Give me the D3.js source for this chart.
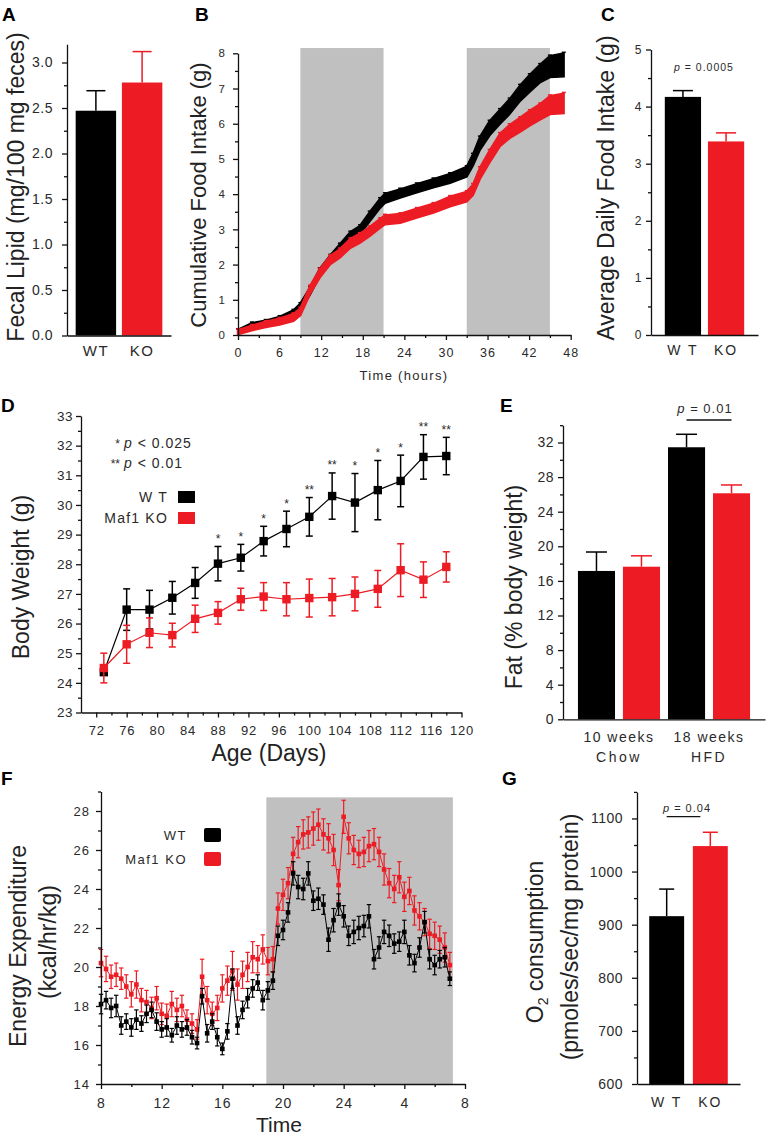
<!DOCTYPE html>
<html><head><meta charset="utf-8">
<script src="https://cdn.jsdelivr.net/npm/d3@7"></script>
<style>
body{margin:0;background:#fff}
svg text{font-family:"Liberation Sans",Arial,Helvetica,sans-serif}
</style></head><body>
<svg id="c" width="766" height="1137"></svg>
<script>
// ================= DATA =================
// Panel A
const aCats = ["WT","KO"];
const aVals = [2.47, 2.78];
const aErr  = [0.22, 0.34];
const aMajor = [0,0.5,1,1.5,2,2.5,3];
const aMinor = [0.25,0.75,1.25,1.75,2.25,2.75];
// Panel B
const bTimes = [0,2,4,6,8,9,10.4,11.8,13.3,14.7,16.2,17.6,19,20.5,21.2,23.4,25.8,28.2,30.6,33,33.9,34.9,36.3,37.8,39.2,40.7,42.1,43.6,45,47];
const bWT    = [0.10,0.28,0.35,0.45,0.62,0.80,1.25,1.78,2.15,2.46,2.80,2.98,3.36,3.74,3.88,4.02,4.17,4.31,4.45,4.64,4.97,5.44,5.87,6.20,6.49,6.87,7.15,7.43,7.62,7.67];
const bWTerr = [0.05,0.06,0.06,0.07,0.08,0.09,0.10,0.10,0.11,0.12,0.12,0.12,0.13,0.13,0.13,0.12,0.12,0.12,0.13,0.14,0.16,0.18,0.20,0.20,0.21,0.22,0.24,0.25,0.30,0.33];
const bKO    = [0.08,0.20,0.30,0.38,0.50,0.66,1.28,1.75,2.13,2.32,2.60,2.75,2.94,3.17,3.27,3.31,3.46,3.60,3.79,3.93,4.12,4.59,5.07,5.54,5.78,5.97,6.16,6.34,6.53,6.58];
const bKOerr = [0.06,0.07,0.08,0.09,0.10,0.10,0.11,0.12,0.12,0.12,0.13,0.13,0.13,0.13,0.13,0.13,0.13,0.13,0.14,0.14,0.15,0.16,0.17,0.18,0.19,0.20,0.21,0.22,0.26,0.28];
const bDark = [[9,21],[33,45]];
const bDarkTop = 8.15;
const bXMajor = [0,6,12,18,24,30,36,42,48];
const bXMinor = [3,9,15,21,27,33,39,45];
const bYMajor = [0,1,2,3,4,5,6,7,8];
const bYMinor = [0.5,1.5,2.5,3.5,4.5,5.5,6.5,7.5];
// Panel C
const cCats = ["WT","KO"];
const cVals = [4.17, 3.39];
const cErr  = [0.11, 0.15];
const cMajor = [0,1,2,3,4,5];
const cMinor = [0.5,1.5,2.5,3.5,4.5];
// Panel D
const dDays = [73,76,79,82,85,88,91,94,97,100,103,106,109,112,115,118];
const dWT    = [24.36,26.47,26.47,26.87,27.37,28.02,28.22,28.78,29.19,29.60,30.30,30.08,30.50,30.81,31.62,31.65];
const dWTerr = [0.10,0.70,0.65,0.55,0.52,0.58,0.45,0.50,0.60,0.65,0.78,0.98,1.00,0.87,0.75,0.63];
const dKO    = [24.50,25.30,25.69,25.61,26.16,26.36,26.82,26.91,26.82,26.86,26.89,27.00,27.17,27.80,27.48,27.91];
const dKOerr = [0.50,0.64,0.50,0.40,0.46,0.38,0.37,0.47,0.56,0.64,0.63,0.57,0.62,0.89,0.60,0.51];
const dSig   = ["","","","","","*","*","*","*","**","**","*","*","*","**","**"];
const dXMajor = [72,76,80,84,88,92,96,100,104,108,112,116,120];
const dXMinor = [74,78,82,86,90,94,98,102,106,110,114,118];
const dYMajor = [23,24,25,26,27,28,29,30,31,32,33];
const dYMinor = [23.5,24.5,25.5,26.5,27.5,28.5,29.5,30.5,31.5,32.5];
// Panel E
const eGroups = ["10 weeks","18 weeks"];
const eGroupSub = ["Chow","HFD"];
const eGenos = ["WT","KO"];
const eVals = [[17.15,17.64],[31.45,26.13]];
const eErr  = [[2.19,1.26],[1.50,0.96]];
const eMajor = [0,4,8,12,16,20,24,28,32];
const eMinor = [2,6,10,14,18,22,26,30,34];
// Panel F (one reading every 20 minutes from 8:00 to 7:00 next day)
const fStartHour = 8, fStepHour = 1/3;
const fWT = [18.1,18.3,17.9, 18.0,17.0,17.2, 16.9,17.3,17.1, 17.6,17.8,17.2, 16.8,16.9,16.5, 17.0,16.8,16.9,
             16.4,16.1,18.5, 16.6,17.2,16.4, 15.8,16.7,19.4, 17.0,17.8,18.4, 18.9,19.2,18.3, 18.8,19.3,21.6,
             21.9,22.8,24.8, 24.1,24.0,24.8, 23.4,23.5,23.2, 21.4,22.4,23.2, 22.6,21.6,21.8, 22.0,22.1,22.6,
             20.4,21.0,21.8, 21.6,21.2,21.3, 21.8,20.6,20.2, 21.0,22.3,20.4, 20.1,20.4,20.5, 19.4];
const fWTerr = [0.5,0.45,0.5, 0.55,0.45,0.4, 0.45,0.5,0.4, 0.45,0.4,0.45, 0.4,0.45,0.35, 0.45,0.4,0.4,
             0.35,0.3,0.4, 0.45,0.4,0.45, 0.3,0.4,0.5, 0.45,0.45,0.5, 0.45,0.4,0.5, 0.45,0.45,0.5,
             0.5,0.5,0.6, 0.6,0.55,0.6, 0.5,0.55,0.5, 0.6,0.6,0.55, 0.55,0.5,0.6, 0.6,0.55,0.6,
             0.5,0.55,0.6, 0.55,0.5,0.5, 0.6,0.5,0.45, 0.5,0.55,0.5, 0.5,0.45,0.5, 0.35];
const fKO = [20.2,19.9,19.5, 19.6,19.4,19.0, 18.6,19.1,18.3, 18.2,17.9,18.4, 17.6,17.5,18.1, 17.8,18.0,17.3,
             17.1,16.8,19.5, 18.3,17.6,17.9, 18.9,19.3,19.8, 19.1,19.6,20.0, 20.5,20.4,20.9, 20.3,20.4,23.0,
             23.7,24.3,25.8, 26.4,26.8,26.9, 27.1,27.3,26.8, 26.6,26.0,24.2, 27.7,26.6,26.0, 25.8,25.9,26.2,
             26.3,25.9,25.0, 24.3,24.0,24.6, 23.6,23.9,22.9, 22.6,22.3,21.7, 21.6,21.4,21.0, 20.1];
const fKOerr = [0.7,0.65,0.6, 0.6,0.55,0.6, 0.65,0.7,0.6, 0.6,0.55,0.6, 0.55,0.6,0.65, 0.6,0.55,0.5,
             0.5,0.5,0.9, 0.7,0.6,0.65, 0.7,0.75,1.0, 0.8,0.7,0.75, 0.8,0.7,0.75, 0.7,0.65,0.8,
             0.8,0.8,0.85, 0.8,0.75,0.8, 0.85,0.8,0.8, 0.75,0.8,0.8, 0.85,0.8,0.75, 0.7,0.75,0.8,
             0.8,0.75,0.8, 0.75,0.7,0.8, 0.75,0.7,0.75, 0.7,0.7,0.75, 0.7,0.7,0.75, 0.65];
const fDark = [18.9, 31.2];
const fDarkTop = 28.7;
const fXMajor = [8,12,16,20,24,28,32];
const fXMinor = [10,14,18,22,26,30];
const fYMajor = [14,16,18,20,22,24,26,28];
const fYMinor = [15,17,19,21,23,25,27,29];
// Panel G
const gCats = ["WT","KO"];
const gVals = [916, 1048];
const gErr  = [51, 26];
const gMajor = [600,700,800,900,1000,1100];
const gMinor = [650,750,850,950,1050,1150];

// ================= DRAWING =================
const RED = "#ED1C24", BLK = "#000", GRAY = "#C0C0C0", TXT = "#2a2a2a", AX = "#111";
const svg = d3.select("#c");
svg.append("rect").attr("width",766).attr("height",1137).attr("fill","#fff");

function styleAxis(a, fs, ls){
  a.selectAll("line,path").attr("stroke",AX).attr("stroke-width",1.3);
  a.selectAll("text").attr("font-size",fs).attr("fill",TXT).attr("letter-spacing",ls||0);
}
function yAxis(scale, x, major, minor, fmt, fs, pad, ls){
  const a = svg.append("g").attr("transform",`translate(${x},0)`);
  a.call(d3.axisLeft(scale).tickValues(major).tickFormat(fmt).tickSize(5).tickSizeOuter(0).tickPadding(pad));
  const m = a.append("g").call(d3.axisLeft(scale).tickValues(minor).tickFormat("").tickSize(3).tickSizeOuter(0));
  m.select(".domain").remove();
  styleAxis(a, fs, ls);
  return a;
}
function xAxisLin(scale, y, major, minor, fmt, fs, pad, ls){
  const a = svg.append("g").attr("transform",`translate(0,${y})`);
  a.call(d3.axisBottom(scale).tickValues(major).tickFormat(fmt).tickSize(5).tickSizeOuter(0).tickPadding(pad));
  const m = a.append("g").call(d3.axisBottom(scale).tickValues(minor).tickFormat("").tickSize(3).tickSizeOuter(0));
  m.select(".domain").remove();
  styleAxis(a, fs, ls);
  return a;
}
function xAxisBand(scale, y, fmt, fs, pad, ls){
  const a = svg.append("g").attr("transform",`translate(0,${y})`);
  a.call(d3.axisBottom(scale).tickSize(0).tickSizeOuter(0).tickPadding(pad).tickFormat(fmt));
  styleAxis(a, fs, ls);
  return a;
}
function letter(t, x, y){
  svg.append("text").attr("x",x).attr("y",y).text(t)
    .attr("font-size",19).attr("font-weight","bold").attr("fill","#000");
}
function yTitle(x, y, fs){
  return svg.append("text").attr("transform",`translate(${x},${y}) rotate(-90)`)
    .attr("text-anchor","middle").attr("font-size",fs).attr("fill","#222");
}
function bars(g, xs, ys, cats, vals, errs, capW){
  cats.forEach((c,i)=>{
    const col = i===0?BLK:RED;
    const x0 = xs(c), w = xs.bandwidth(), cx = x0 + w/2;
    const y0 = ys.range()[0];
    g.append("rect").attr("x",x0).attr("y",ys(vals[i])).attr("width",w)
      .attr("height",y0-ys(vals[i])).attr("fill",col);
    g.append("line").attr("x1",cx).attr("x2",cx).attr("y1",ys(vals[i])).attr("y2",ys(vals[i]+errs[i]))
      .attr("stroke",col).attr("stroke-width",1.5);
    g.append("line").attr("x1",cx-capW/2).attr("x2",cx+capW/2).attr("y1",ys(vals[i]+errs[i])).attr("y2",ys(vals[i]+errs[i]))
      .attr("stroke",col).attr("stroke-width",1.5);
  });
}

// ---------- Panel A ----------
{
  const y = d3.scaleLinear().domain([0,3.2]).range([335.5,44.3]);
  const x = d3.scaleBand().domain(aCats).range([67,171]).paddingInner(0.125).paddingOuter(0.1875);
  const g = svg.append("g");
  bars(g, x, y, aCats, aVals, aErr, 19);
  yAxis(y, 67, aMajor, aMinor, d3.format(".1f"), 14, 9, 0.5);
  xAxisBand(x, 335.5, d=>d, 15, 10, 1.5);
  letter("A", 2, 21);
  yTitle(24, 187, 23).text("Fecal Lipid (mg/100 mg feces)");
}

// ---------- Panel B ----------
{
  const x = d3.scaleLinear().domain([0,48]).range([238,570.7]);
  const y = d3.scaleLinear().domain([0,8]).range([335,53.3]);
  const g = svg.append("g");
  bDark.forEach(d=>{
    g.append("rect").attr("x",x(d[0])).attr("y",y(bDarkTop)).attr("width",x(d[1])-x(d[0]))
      .attr("height",y(0)-y(bDarkTop)).attr("fill",GRAY);
  });
  const series = [[bWT,bWTerr,BLK],[bKO,bKOerr,RED]];
  series.forEach(([v,e,col])=>{
    const area = d3.area().x((d,i)=>x(bTimes[i])).y0((d,i)=>y(v[i]-e[i])).y1((d,i)=>y(v[i]+e[i]));
    g.append("path").datum(v).attr("d",area).attr("fill",col).attr("stroke",col).attr("stroke-width",2.2);
    bTimes.forEach((t,i)=>{
      g.append("line").attr("x1",x(t)-2).attr("x2",x(t)+2).attr("y1",y(v[i]+e[i])-1).attr("y2",y(v[i]+e[i])-1)
        .attr("stroke",col).attr("stroke-width",1.5);
    });
  });
  yAxis(y, 238, bYMajor, bYMinor, d3.format("d"), 11.5, 8, 0);
  xAxisLin(x, 335, bXMajor, bXMinor, d3.format("d"), 12.5, 8.5, 1);
  svg.append("text").attr("x",404).attr("y",380).attr("text-anchor","middle").attr("font-size",13)
    .attr("letter-spacing",1.3).attr("fill",TXT).text("Time (hours)");
  letter("B", 195, 21);
  yTitle(206, 195, 22).text("Cumulative Food Intake (g)");
}

// ---------- Panel C ----------
{
  const y = d3.scaleLinear().domain([0,5]).range([335,49.5]);
  const x = d3.scaleBand().domain(cCats).range([651,758]).paddingInner(0.16).paddingOuter(0.32);
  const g = svg.append("g");
  bars(g, x, y, cCats, cVals, cErr, 20);
  yAxis(y, 651, cMajor, cMinor, d3.format("d"), 12, 4.5, 0);
  xAxisBand(x, 335, d=>d==="WT"?"W T":"KO", 14, 10, 2);
  const p = svg.append("text").attr("x",704).attr("y",70.5).attr("text-anchor","middle")
    .attr("font-size",10.5).attr("letter-spacing",1).attr("fill",TXT);
  p.append("tspan").attr("font-style","italic").text("p");
  p.append("tspan").text(" = 0.0005");
  letter("C", 601, 21);
  yTitle(614, 188, 23).text("Average Daily Food Intake (g)");
}

// ---------- Panel D ----------
{
  const x = d3.scaleLinear().domain([70,120]).range([81,461.5]);
  const y = d3.scaleLinear().domain([23,33]).range([712.5,416]);
  const g = svg.append("g");
  const line = d3.line().x((d,i)=>x(dDays[i])).y(d=>y(d));
  [[dWT,dWTerr,BLK],[dKO,dKOerr,RED]].forEach(([v,e,col])=>{
    g.append("path").datum(v).attr("d",line).attr("fill","none").attr("stroke",col).attr("stroke-width",1.2);
    dDays.forEach((dd,i)=>{
      const cx = x(dd);
      g.append("line").attr("x1",cx).attr("x2",cx).attr("y1",y(v[i]-e[i])).attr("y2",y(v[i]+e[i]))
        .attr("stroke",col).attr("stroke-width",1.5);
      [v[i]-e[i], v[i]+e[i]].forEach(val=>{
        g.append("line").attr("x1",cx-3.5).attr("x2",cx+3.5).attr("y1",y(val)).attr("y2",y(val))
          .attr("stroke",col).attr("stroke-width",1.5);
      });
      g.append("rect").attr("x",cx-4.2).attr("y",y(v[i])-4.2).attr("width",8.4).attr("height",8.4).attr("fill",col);
    });
  });
  dDays.forEach((dd,i)=>{
    if(dSig[i]) g.append("text").attr("x",x(dd)).attr("y",y(dWT[i]+dWTerr[i])-3.5)
      .attr("text-anchor","middle").attr("font-size",12).attr("fill",TXT).text(dSig[i]);
  });
  yAxis(y, 81, dYMajor, dYMinor, d3.format("d"), 13.5, 3, 0.5);
  xAxisLin(x, 712.5, dXMajor, dXMinor, d3.format("d"), 13, 8.3, 0.8);
  svg.append("text").attr("x",269).attr("y",761).attr("text-anchor","middle").attr("font-size",23)
    .attr("fill","#222").text("Age (Days)");
  [["*","< 0.025",448],["**","< 0.01",468]].forEach(([s,t,yy])=>{
    svg.append("text").attr("x",120).attr("y",yy).attr("text-anchor","end").attr("font-size",12).attr("fill",TXT).text(s);
    const tt = svg.append("text").attr("x",124).attr("y",yy).attr("font-size",14).attr("letter-spacing",1).attr("fill",TXT);
    tt.append("tspan").attr("font-style","italic").text("p");
    tt.append("tspan").text(" " + t);
  });
  [["W T",BLK,502],["Maf1 KO",RED,523]].forEach(([t,col,yy])=>{
    svg.append("text").attr("x",168).attr("y",yy).attr("text-anchor","end").attr("font-size",14)
      .attr("letter-spacing",1.2).attr("fill",TXT).text(t);
    svg.append("rect").attr("x",178).attr("y",yy-11).attr("width",17).attr("height",12).attr("fill",col);
  });
  letter("D", 1, 412);
  yTitle(29, 577, 23).text("Body Weight (g)");
}

// ---------- Panel E ----------
{
  const y = d3.scaleLinear().domain([0,34]).range([719.3,425.2]);
  const x0 = d3.scaleBand().domain(eGroups).range([563,765]).paddingInner(0.089).paddingOuter(0.166);
  const x1 = d3.scaleBand().domain(eGenos).range([0,x0.bandwidth()]).paddingInner(0.176);
  const g = svg.append("g");
  eGroups.forEach((grp,gi)=>{
    const gg = g.append("g").attr("transform",`translate(${x0(grp)},0)`);
    bars(gg, x1, y, eGenos, eVals[gi], eErr[gi], 21);
  });
  yAxis(y, 563, eMajor, eMinor, d3.format("d"), 14, 4, 0.5);
  const xa = svg.append("g").attr("transform","translate(0,719.3)");
  xa.call(d3.axisBottom(x0).tickSize(0).tickSizeOuter(0).tickFormat(""));
  styleAxis(xa, 14, 0);
  eGroups.forEach((grp,gi)=>{
    const cx = x0(grp)+x0.bandwidth()/2;
    svg.append("text").attr("x",cx).attr("y",742).attr("text-anchor","middle").attr("font-size",14)
      .attr("letter-spacing",1.5).attr("fill",TXT).text(grp);
    svg.append("text").attr("x",cx).attr("y",762).attr("text-anchor","middle").attr("font-size",14)
      .attr("letter-spacing",2.5).attr("fill",TXT).text(eGroupSub[gi]);
  });
  const p = svg.append("text").attr("x",705).attr("y",413).attr("text-anchor","middle")
    .attr("font-size",13).attr("letter-spacing",1).attr("fill",TXT);
  p.append("tspan").attr("font-style","italic").text("p");
  p.append("tspan").text(" = 0.01");
  const hb = x0("18 weeks");
  svg.append("line").attr("x1",hb+x1("WT")+x1.bandwidth()/2).attr("x2",hb+x1("KO")+x1.bandwidth()/2)
    .attr("y1",420).attr("y2",420).attr("stroke","#111").attr("stroke-width",1.3);
  letter("E", 500, 412);
  yTitle(522, 587, 23).text("Fat (% body weight)");
}

// ---------- Panel F ----------
{
  const x = d3.scaleLinear().domain([8,32]).range([101,465]);
  const y = d3.scaleLinear().domain([14,29]).range([1084,791.5]);
  const g = svg.append("g");
  g.append("rect").attr("x",x(fDark[0])).attr("y",y(fDarkTop)).attr("width",x(fDark[1])-x(fDark[0]))
    .attr("height",y(14)-y(fDarkTop)).attr("fill",GRAY);
  const tAt = i => fStartHour + i*fStepHour;
  [[fKO,fKOerr,RED],[fWT,fWTerr,BLK]].forEach(([v,e,col])=>{
    const line = d3.line().x((d,i)=>x(tAt(i))).y(d=>y(d));
    g.append("path").datum(v).attr("d",line).attr("fill","none").attr("stroke",col).attr("stroke-width",1);
    v.forEach((val,i)=>{
      const cx = x(tAt(i));
      g.append("line").attr("x1",cx).attr("x2",cx).attr("y1",y(val-e[i])).attr("y2",y(val+e[i]))
        .attr("stroke",col).attr("stroke-width",1.2);
      [val-e[i], val+e[i]].forEach(vv=>{
        g.append("line").attr("x1",cx-2.2).attr("x2",cx+2.2).attr("y1",y(vv)).attr("y2",y(vv))
          .attr("stroke",col).attr("stroke-width",1.2);
      });
      g.append("rect").attr("x",cx-2.3).attr("y",y(val)-2.3).attr("width",4.6).attr("height",4.6).attr("fill",col);
    });
  });
  yAxis(y, 101, fYMajor, fYMinor, d3.format("d"), 13, 6, 1);
  xAxisLin(x, 1084, fXMajor, fXMinor, d=>String(d===24?24:d%24), 14, 9, 1);
  svg.append("text").attr("x",279).attr("y",1132).attr("text-anchor","middle").attr("font-size",21)
    .attr("fill","#222").text("Time");
  [["WT",BLK,840],["Maf1 KO",RED,864]].forEach(([t,col,yy])=>{
    svg.append("text").attr("x",187).attr("y",yy).attr("text-anchor","end").attr("font-size",13)
      .attr("letter-spacing",1.5).attr("fill",TXT).text(t);
    svg.append("rect").attr("x",204).attr("y",yy-12).attr("width",17).attr("height",14).attr("rx",2).attr("fill",col);
  });
  letter("F", 1, 785);
  yTitle(26, 946, 23).text("Energy Expenditure");
  yTitle(56, 942, 23).text("(kcal/hr/kg)");
}

// ---------- Panel G ----------
{
  const y = d3.scaleLinear().domain([600,1150]).range([1084,791.9]);
  const x = d3.scaleBand().domain(gCats).range([637,740]).paddingInner(0.2).paddingOuter(0.28);
  const g = svg.append("g");
  bars(g, x, y, gCats, gVals, gErr, 15);
  yAxis(y, 637, gMajor, gMinor, d3.format("d"), 14, 9, 0.5);
  xAxisBand(x, 1084, d=>d==="WT"?"W T":"KO", 14, 13, 2);
  const p = svg.append("text").attr("x",687).attr("y",811.5).attr("text-anchor","middle")
    .attr("font-size",11).attr("letter-spacing",1).attr("fill",TXT);
  p.append("tspan").attr("font-style","italic").text("p");
  p.append("tspan").text(" = 0.04");
  svg.append("line").attr("x1",x("WT")+x.bandwidth()/2).attr("x2",x("KO")+x.bandwidth()/2-10)
    .attr("y1",816.7).attr("y2",816.7).attr("stroke","#111").attr("stroke-width",1.3);
  letter("G", 502, 785);
  const t = yTitle(543, 942, 23);
  t.append("tspan").text("O");
  t.append("tspan").attr("font-size",14).attr("dy",5).text("2");
  t.append("tspan").attr("dy",-5).text(" consumption");
  yTitle(578, 937, 23).text("(pmoles/sec/mg protein)");
}
</script>
</body></html>
